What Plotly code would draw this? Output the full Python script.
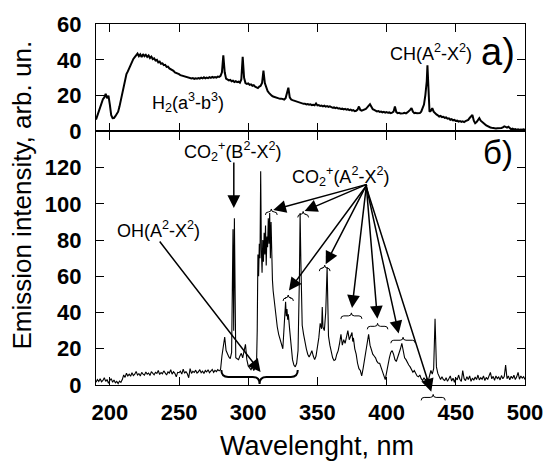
import plotly.graph_objects as go

# ---------------- data ----------------
# panel a) spectrum: (wavelength nm, intensity)
spec_a = [
    (190, 6.6), (191, 9), (192, 12), (193, 14), (194, 16), (195, 18), (196, 19), (197, 21), (198, 18.5), (199, 20),
    (200, 15), (201, 9), (202, 7.4), (203, 7.5), (204, 8.5), (205, 10), (206, 11), (207, 14), (208, 18), (209, 22),
    (210, 26), (211, 29), (212, 32), (213, 33.5), (214, 35.5), (215, 37.5), (216, 39), (217, 40.5), (218, 41.5), (219, 42.5),
    (220, 43.5), (221, 42), (222, 43), (223, 41.5), (224, 43.2), (225, 42), (226, 42.8), (227, 41.6), (228, 42.4), (229, 41),
    (230, 41.8), (231, 40.4), (232, 40.8), (233, 39.6), (234, 40), (235, 38.6), (236, 39), (237, 37.8), (238, 38), (239, 37),
    (240, 37.2), (241, 36), (242, 36.2), (243, 35.2), (244, 34.8), (245, 34), (246, 33.8), (247, 33), (248, 32.8), (249, 32.2),
    (250, 32), (251, 31.4), (252, 31.2), (253, 30.8), (254, 30.6), (255, 30.3), (256, 30.4), (257, 29.8), (258, 30), (259, 29.6),
    (260, 29.8), (261, 29.4), (262, 29.7), (263, 29.5), (264, 29.8), (265, 29.5), (266, 30), (267, 29.6), (268, 30.2), (269, 29.7),
    (270, 30.1), (271, 29.8), (272, 30.3), (273, 29.9), (274, 30.4), (275, 30), (276, 30.4), (277, 30.1), (278, 30.6), (279, 30.4),
    (280, 31), (281, 33), (282, 42.5), (283, 33), (284, 29.5), (285, 29), (286, 28.5), (287, 28.8), (288, 28), (289, 28.3),
    (290, 27.6), (291, 28), (292, 27.5), (293, 27.8), (294, 27.2), (295, 29), (296, 41.7), (297, 30), (298, 27), (299, 26.5),
    (300, 26.8), (301, 26), (302, 26.3), (303, 25.5), (304, 25.8), (305, 25), (306, 24.6), (307, 24.2), (308, 25), (309, 25.5),
    (310, 27), (311, 34), (312, 27), (313, 24), (314, 22.5), (315, 21.5), (316, 20.5), (317, 20), (318, 19.5), (319, 19.2),
    (320, 18.8), (321, 18.6), (322, 18.4), (323, 18.2), (324, 18.3), (325, 18), (326, 17.8), (327, 18.5), (328, 21), (329, 24.4),
    (330, 19), (331, 17.8), (332, 17.5), (333, 17.2), (334, 16.8), (335, 16.6), (336, 16.3), (337, 16.1), (338, 15.8), (339, 15.6),
    (340, 15.4), (341, 15.5), (342, 15.1), (343, 15.3), (344, 14.9), (345, 15.1), (346, 14.7), (347, 14.9), (348, 14.6), (349, 15.6),
    (350, 14.5), (351, 14.7), (352, 14.2), (353, 14.4), (354, 14), (355, 14.4), (356, 13.8), (357, 14.1), (358, 13.7), (359, 14),
    (360, 13.5), (361, 13.2), (362, 13.4), (363, 13), (364, 13.3), (365, 12.8), (366, 12.9), (367, 12.5), (368, 12.7), (369, 12.3),
    (370, 12.6), (371, 12.1), (372, 12.4), (373, 11.9), (374, 12.2), (375, 11.6), (376, 11.9), (377, 11.3), (378, 11.5), (379, 12.2),
    (380, 13.9), (381, 12), (382, 11.6), (383, 11.8), (384, 12), (385, 12.6), (386, 13.4), (387, 14.6), (388, 15.2), (389, 13.8),
    (390, 12.4), (391, 12), (392, 11.5), (393, 11.2), (394, 11.4), (395, 10.9), (396, 11.1), (397, 10.6), (398, 10.9), (399, 10.5),
    (400, 10.8), (401, 10.4), (402, 10.6), (403, 10.2), (404, 10.5), (405, 11), (406, 13.9), (407, 10.8), (408, 10.2), (409, 10.4),
    (410, 10), (411, 10.3), (412, 10.2), (413, 10.4), (414, 10.1), (415, 10.6), (416, 11.2), (417, 12), (418, 13), (419, 11),
    (420, 10.2), (421, 10.4), (422, 10.1), (423, 10.3), (424, 10.2), (425, 11), (426, 13), (427, 15), (428, 20.3), (429, 28),
    (429.5, 37), (430, 24), (430.5, 12), (431, 11), (432, 11.5), (433, 13), (434, 11), (435, 10), (436, 9.5), (437, 9),
    (438, 8.3), (439, 8.6), (440, 8), (441, 8.2), (442, 7.6), (443, 7.8), (444, 7.1), (445, 7.3), (446, 6.5), (447, 6.8),
    (448, 6.2), (449, 6.4), (450, 5.8), (451, 6), (452, 5.5), (453, 5.8), (454, 5.3), (455, 5.6), (456, 5.2), (457, 5.7),
    (458, 6), (459, 6.4), (460, 7.5), (461, 8.5), (462, 9.2), (463, 6), (464, 4.6), (465, 5.2), (466, 6.5), (467, 7.4),
    (468, 6), (469, 5.5), (470, 4.6), (471, 4), (472, 3.3), (473, 2.8), (474, 2.5), (475, 2.2), (476, 2), (477, 1.8),
    (478, 1.9), (479, 1.6), (480, 1.8), (481, 1.7), (482, 2), (483, 1.9), (484, 2.2), (485, 2.8), (486, 2.5), (487, 2.1),
    (488, 2.6), (489, 1.6), (490, 1.2), (491, 1.5), (492, 1.1), (493, 1.3), (494, 0.9), (495, 1.2), (496, 0.8), (497, 1.1),
    (498, 0.9), (499, 1.2), (500, 0.9),
]

# panel б) spectrum: (wavelength nm, intensity)
spec_b = [
    (190, 1.5), (191, 3), (192, 2), (193, 3.5), (194, 1.8), (195, 2.5), (196, 4), (197, 2), (198, 3), (199, 1),
    (200, 2.5), (201, 3.5), (202, 1.5), (203, 2.8), (204, 1.2), (205, 2), (206, 0.8), (207, 2.2), (208, 1.5), (209, 3),
    (210, 5.5), (211, 4.2), (212, 6.5), (213, 5), (214, 6), (215, 4.8), (216, 6.8), (217, 5.2), (218, 6), (219, 7.5),
    (220, 5.5), (221, 6.3), (222, 5), (223, 7), (224, 6), (225, 5.4), (226, 7.2), (227, 6), (228, 6.6), (229, 5.2),
    (230, 7.4), (231, 6.2), (232, 5.6), (233, 7), (234, 6.4), (235, 8), (236, 5.8), (237, 6.9), (238, 6.2), (239, 7.8),
    (240, 6.5), (241, 5.5), (242, 7.2), (243, 6.6), (244, 8.4), (245, 6), (246, 7.3), (247, 6.4), (248, 4.5), (249, 7),
    (250, 6.8), (251, 7.6), (252, 6), (253, 8.8), (254, 6.5), (255, 7.4), (256, 6.2), (257, 4), (258, 9), (259, 6.4),
    (260, 7.5), (261, 6.9), (262, 8.2), (263, 6.6), (264, 7.3), (265, 8.5), (266, 6.8), (267, 7.6), (268, 6.3), (269, 8),
    (270, 7.2), (271, 8.4), (272, 6.8), (273, 7.7), (274, 8.6), (275, 7), (276, 8.1), (277, 7.4), (278, 8.5), (279, 7.8),
    (280, 8.5), (281, 16), (282, 22), (283, 26.5), (284, 19), (285, 17), (286, 15.5), (287, 14.5), (288, 18), (289, 86),
    (289.5, 30), (290, 92), (290.5, 25), (291, 15), (292, 14.5), (293, 14), (294, 16), (295, 17.5), (296, 15), (297, 19),
    (298, 22.5), (299, 14), (300, 10.5), (301, 9.5), (302, 8.5), (303, 10), (304, 8), (305, 9.5), (306, 11), (306.5, 30),
    (307, 72), (307.5, 60), (308, 78), (308.5, 70), (309, 118), (309.5, 75), (310, 62), (310.5, 80), (311, 68), (311.5, 84),
    (312, 72), (312.5, 88), (313, 66), (313.5, 82), (314, 76), (314.5, 92), (315, 78), (315.5, 95), (316, 70), (316.5, 90),
    (317, 62), (317.5, 58), (318, 52), (319, 45), (320, 37), (321, 32), (322, 28), (323, 25), (324, 22), (325, 20),
    (326, 33), (327, 46), (327.5, 38), (328, 42), (328.5, 36), (329, 39), (330, 30), (331, 22), (332, 14), (333, 11),
    (334, 10), (335, 12), (336, 19), (337, 60), (337.5, 95), (338, 70), (338.5, 40), (339, 33), (340, 28), (341, 23),
    (342, 20), (343, 17), (344, 15.5), (345, 17), (346, 19), (347, 16), (348, 14), (349, 16), (350, 20), (351, 26),
    (352, 34), (353, 31), (353.5, 43), (354, 32), (355, 30), (355.5, 36), (356, 40), (357, 65), (357.5, 48), (358, 27),
    (359, 22), (360, 18), (361, 15), (362, 13.5), (363, 14), (364, 17), (365, 19), (366, 23), (367, 28), (368, 22),
    (369, 25), (370, 23), (371, 27), (372, 30), (373, 25), (374, 27), (375, 29), (375.5, 24), (376, 26), (377, 20),
    (378, 17), (379, 12), (380, 9), (381, 8), (382, 5), (383, 9), (384, 14), (385, 20), (386, 24), (387, 28),
    (388, 22), (389, 19), (390, 17), (391, 16), (392, 15), (393, 13), (394, 12), (395, 12), (396, 10), (397, 8),
    (398, 6), (399, 3), (400, 7), (401, 12), (402, 15), (403, 18), (404, 19), (405, 17), (406, 14), (407, 13),
    (408, 15), (409, 18), (410, 20), (411, 23), (412, 18), (413, 15), (414, 14), (415, 12), (416, 11), (417, 10),
    (418, 8), (419, 7), (420, 8), (421, 6), (422, 5), (423, 4.5), (424, 5.5), (425, 3.5), (426, 2.5), (427, 4),
    (428, 2.7), (429, 3.5), (430, 2), (431, 5), (432, 8), (433, 6), (434, 9), (435, 36.6), (435.5, 14), (436, 10),
    (437, 6.4), (438, 5), (439, 3), (440, 4.5), (441, 3), (442, 2.5), (443, 4), (444, 2), (445, 3.5), (446, 5),
    (447, 2.2), (448, 3.8), (449, 1.5), (450, 4), (451, 2.8), (452, 5.5), (453, 3), (454, 2), (455, 8), (456, 3.5),
    (457, 2.4), (458, 4.6), (459, 3), (460, 5), (461, 2), (462, 3.8), (463, 2.6), (464, 4.4), (465, 3), (466, 5.5),
    (467, 2.8), (468, 4), (469, 3.2), (470, 5), (471, 2.5), (472, 4.2), (473, 3), (474, 5.6), (475, 7), (476, 3.4),
    (477, 4.8), (478, 2.6), (479, 5), (480, 3.6), (481, 4.4), (482, 2.8), (483, 5.2), (484, 3.5), (485, 4.6), (486, 11),
    (487, 3.5), (488, 5), (489, 2.8), (490, 4.8), (491, 3.6), (492, 5.4), (493, 3), (494, 4.5), (495, 7), (496, 3.2),
    (497, 5), (498, 3.8), (499, 4.6), (500, 3),
]

x_ticks = [200, 250, 300, 350, 400, 450, 500]
ya_ticks = [0, 20, 40, 60]
yb_ticks = [0, 20, 40, 60, 80, 100, 120]

wl_a = [p[0] for p in spec_a]
int_a = [p[1] for p in spec_a]
wl_b = [p[0] for p in spec_b]
int_b = [p[1] for p in spec_b]

# ---------------- layout geometry ----------------
W, H = 555, 465
ML, MR, MT, MB = 96, 21, 22, 80
PW, PH = W - ML - MR, H - MT - MB
SPLIT = 255 / PH  # fraction of plot height for lower panel

FONT = "Liberation Sans, Arial, sans-serif"


def px(xp):
    return (xp - ML) / PW


def py(yp):
    return (H - MB - yp) / PH


fig = go.Figure()
fig.add_trace(go.Scatter(x=wl_b, y=int_b, mode="lines", line=dict(color="black", width=1.1),
                         xaxis="x", yaxis="y", showlegend=False, hoverinfo="skip"))
fig.add_trace(go.Scatter(x=wl_a, y=int_a, mode="lines", line=dict(color="black", width=2),
                         xaxis="x2", yaxis="y2", showlegend=False, hoverinfo="skip"))

axis_common = dict(showgrid=False, zeroline=False, showline=True, linecolor="black", linewidth=1.2,
                   mirror="ticks", ticks="inside", ticklen=8, tickwidth=1.2, tickcolor="black",
                   tickfont=dict(family=FONT, size=22, color="black", weight="bold"))

fig.update_layout(
    width=W, height=H,
    margin=dict(l=ML, r=MR, t=MT, b=MB),
    paper_bgcolor="white", plot_bgcolor="white",
    xaxis=dict(range=[190, 500], tickvals=x_ticks, domain=[0, 1], anchor="y",
               ticklabelstandoff=7, **axis_common),
    yaxis=dict(range=[0, 140], tickvals=yb_ticks, domain=[0, SPLIT], anchor="x",
               ticklabelstandoff=9, **axis_common),
    xaxis2=dict(range=[190, 500], tickvals=x_ticks, domain=[0, 1], anchor="y2", matches="x",
                showticklabels=False, **axis_common),
    yaxis2=dict(range=[0, 60], tickvals=ya_ticks, domain=[SPLIT, 1], anchor="x2",
                ticklabelstandoff=9, **axis_common),
)

ann = []


def text(s, xp, yp, size, **kw):
    ann.append(dict(text=s, x=px(xp), y=py(yp), xref="paper", yref="paper", showarrow=False,
                    xanchor="center", yanchor="middle",
                    font=dict(family=FONT, size=size, color="black"), **kw))


def arrow(x0, y0, x1, y1):
    ann.append(dict(text="", x=px(x1), y=py(y1), xref="paper", yref="paper", axref="pixel", ayref="pixel",
                    ax=x0 - x1, ay=y0 - y1, showarrow=True, arrowhead=2, arrowsize=1.7,
                    arrowwidth=1.5, arrowcolor="black", standoff=0, startstandoff=0))


# labels
text("Emission intensity, arb. un.", 21, 194, 26, textangle=-90)
text("Wavelenght, nm", 322, 446, 27)
text("а)", 506, 50, 38)
text("б)", 506, 151, 33)
text("H<sub>2</sub>(a<sup>3</sup>-b<sup>3</sup>)", 190, 101, 18)
text("CH(A<sup>2</sup>-X<sup>2</sup>)", 438, 51, 18)
text("CO<sub>2</sub><sup>+</sup>(B<sup>2</sup>-X<sup>2</sup>)", 235, 150, 18)
text("CO<sub>2</sub><sup>+</sup>(A<sup>2</sup>-X<sup>2</sup>)", 346, 175, 18)
text("OH(A<sup>2</sup>-X<sup>2</sup>)", 160, 229, 18)

# arrows
arrow(236.7, 160, 236.7, 207)
arrow(162, 240, 264, 372)
tail = (372, 183)
for tip in [(277, 209), (309, 210), (293, 290), (330.5, 263.5), (357.4, 307.5),
            (383.3, 318.3), (405, 333.3), (438.3, 391.7)]:
    arrow(tail[0], tail[1], tip[0], tip[1])

fig.update_layout(annotations=ann)

# braces (pixel geometry -> paper coords)
def brace(x0, x1, y, h, r, up=True):
    s = -1 if up else 1
    xm = (x0 + x1) / 2
    pts = [
        ("M", [(x0, y - s * h)]),
        ("Q", [(x0, y), (x0 + r, y)]),
        ("L", [(xm - r, y)]),
        ("Q", [(xm, y), (xm, y + s * h)]),
        ("Q", [(xm, y), (xm + r, y)]),
        ("L", [(x1 - r, y)]),
        ("Q", [(x1, y), (x1, y - s * h)]),
    ]
    path = ""
    for cmd, ps in pts:
        path += cmd + " ".join(f"{px(a):.5f},{py(b):.5f}" for a, b in ps) + " "
    return dict(type="path", path=path.strip(), xref="paper", yref="paper",
                line=dict(color="black", width=1))


shapes = []
for (a, b, y) in [(269, 281, 211), (302, 313, 213.5), (287, 297.5, 297.5), (324, 335, 267.5),
                  (346, 367.5, 315.5), (373, 394, 326), (397, 422, 340), (428, 452.5, 397.5)]:
    shapes.append(brace(a, b, y, 3, 3, up=True))
big = brace(224, 302, 377, 7, 7, up=False)
big["line"]["width"] = 2
shapes.append(big)
fig.update_layout(shapes=shapes)

fig.write_html("out.html")
